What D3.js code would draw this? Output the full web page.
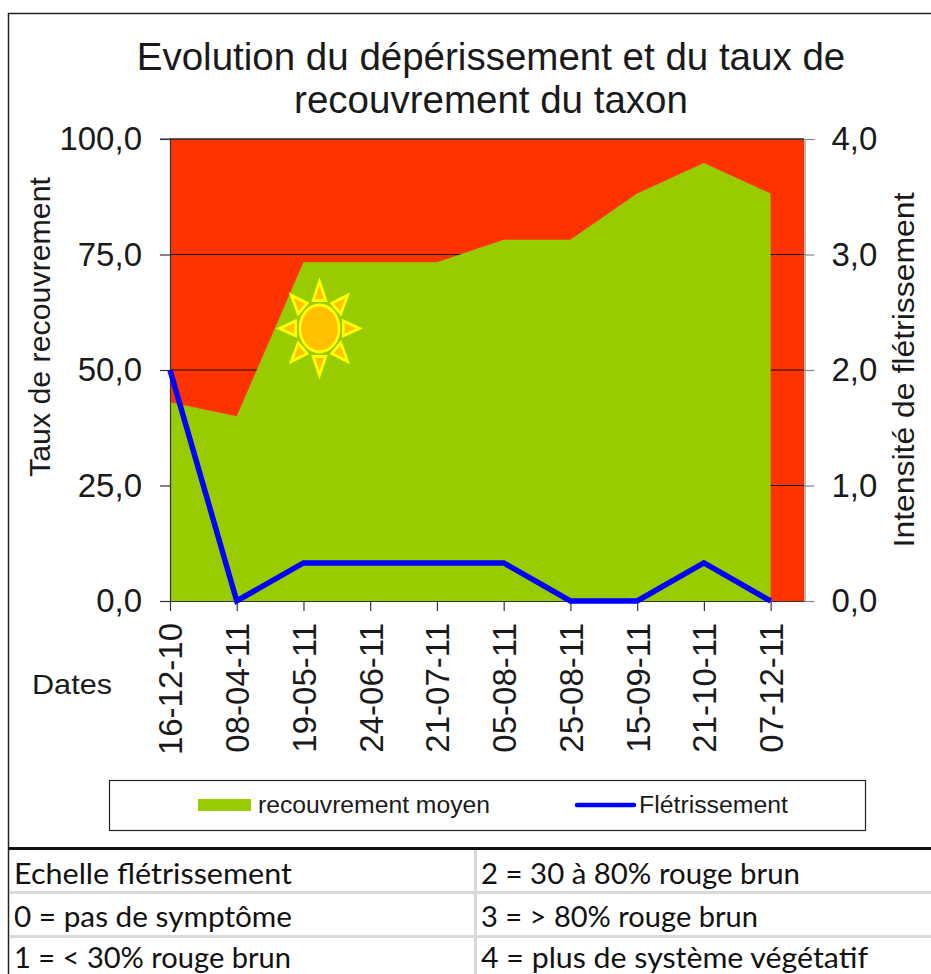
<!DOCTYPE html>
<html>
<head>
<meta charset="utf-8">
<script src="https://cdn.jsdelivr.net/npm/d3@7"></script>
<style>
  body { margin: 0; background: #fff; }
  svg { display: block; }
  text { font-family: "Liberation Sans", Arial, sans-serif; fill: #1a1a1a; }
  .scale text { font-family: Lato, sans-serif; fill: #111; }
</style>
</head>
<body>
<svg id="chart" width="931" height="974"></svg>
<script>
const dates = ['16-12-10', '08-04-11', '19-05-11', '24-06-11', '21-07-11', '05-08-11', '25-08-11', '15-09-11', '21-10-11', '07-12-11'];
const recouvrement = [43, 40, 73.3, 73.3, 73.3, 78.2, 78.2, 88.2, 94.8, 88.2];
const fletrissement = [2, 0, 0.33, 0.33, 0.33, 0.33, 0, 0, 0.33, 0];
const leftTicks = [0, 25, 50, 75, 100];
const rightTicks = [0, 1, 2, 3, 4];
const titleLines = ['Evolution du dépérissement et du taux de', 'recouvrement du taxon'];
const scaleRows = [
  ['Echelle flétrissement', '2 = 30 à 80% rouge brun'],
  ['0 = pas de symptôme', '3 = > 80% rouge brun'],
  ['1 = < 30% rouge brun', '4 = plus de système végétatif']
];

const width = 931;
const margin = { top: 139, right: 127, left: 170 };
const plotBottom = 601;
const plotRight = width - margin.right;
const fmt = (d) => d.toFixed(1).replace('.', ',');

const svg = d3.select('#chart');

// outer frame of the chart, open on the right
svg.append('path')
  .attr('d', 'M931,13.5H8.5V974')
  .attr('fill', 'none')
  .attr('stroke', '#222')
  .attr('stroke-width', 1.5);

// last point stops half a step before the right edge
const x = d3.scalePoint()
  .domain(dates)
  .range([margin.left, plotRight])
  .padding(0.25)
  .align(0);

const yLeft = d3.scaleLinear().domain([0, 100]).range([plotBottom, margin.top]);
const yRight = d3.scaleLinear().domain([0, 4]).range([plotBottom, margin.top]);

svg.append('rect')
  .attr('x', margin.left)
  .attr('y', margin.top)
  .attr('width', plotRight - margin.left)
  .attr('height', plotBottom - margin.top)
  .attr('fill', '#ff3300');

svg.selectAll('.grid')
  .data(leftTicks.slice(1))
  .enter()
  .append('line')
  .attr('class', 'grid')
  .attr('x1', margin.left)
  .attr('x2', plotRight)
  .attr('y1', (d) => yLeft(d))
  .attr('y2', (d) => yLeft(d))
  .attr('stroke', '#111')
  .attr('stroke-width', 1.2);

svg.append('path')
  .datum(recouvrement)
  .attr('fill', '#99cc00')
  .attr('d', d3.area()
    .x((d, i) => x(dates[i]))
    .y0(yLeft(0))
    .y1((d) => yLeft(d)));

// sun shape sitting over the area
const sun = svg.append('g')
  .attr('transform', `translate(${x('19-05-11') + 16},${yLeft(59)}) scale(0.85,1)`);
d3.range(8).forEach((i) => {
  sun.append('path')
    .attr('transform', `rotate(${i * 45})`)
    .attr('d', 'M-7.5,-28L7.5,-28L0,-47Z')
    .attr('fill', '#ffc000')
    .attr('stroke', '#ffff00')
    .attr('stroke-width', 3);
});
sun.append('ellipse')
  .attr('rx', 23)
  .attr('ry', 23.5)
  .attr('fill', '#ffc000')
  .attr('stroke', '#ffff00')
  .attr('stroke-width', 3);

function styleAxis(g, color, size) {
  g.selectAll('.domain').attr('stroke', color).attr('stroke-width', 1.2);
  g.selectAll('.tick line').attr('stroke', color).attr('stroke-width', 1.2);
  g.selectAll('.tick text').style('font-size', size + 'px').attr('fill', '#1a1a1a');
}

const axisLeft = svg.append('g')
  .attr('transform', `translate(${margin.left},0)`)
  .call(d3.axisLeft(yLeft).tickValues(leftTicks).tickFormat(fmt).tickSize(10).tickSizeOuter(0).tickPadding(18));
styleAxis(axisLeft, '#333', 33);

const axisRight = svg.append('g')
  .attr('transform', `translate(${plotRight + 0.5},0)`)
  .call(d3.axisRight(yRight).tickValues(rightTicks).tickFormat(fmt).tickSize(10).tickSizeOuter(0).tickPadding(17));
styleAxis(axisRight, '#888', 33);

const axisBottom = svg.append('g')
  .attr('transform', `translate(0,${plotBottom})`)
  .call(d3.axisBottom(x).tickSize(10).tickSizeOuter(0));
styleAxis(axisBottom, '#333', 33);
axisBottom.selectAll('.tick text')
  .attr('transform', 'rotate(-90)')
  .attr('text-anchor', 'end')
  .attr('x', -22)
  .attr('y', 0)
  .attr('dy', '0.36em');

svg.append('line')
  .attr('x1', margin.left - 10)
  .attr('x2', plotRight)
  .attr('y1', margin.top)
  .attr('y2', margin.top)
  .attr('stroke', '#333')
  .attr('stroke-width', 1.2);

svg.append('path')
  .datum(fletrissement)
  .attr('fill', 'none')
  .attr('stroke', '#0000ff')
  .attr('stroke-width', 5.5)
  .attr('d', d3.line()
    .x((d, i) => x(dates[i]))
    .y((d) => yRight(d)));

svg.selectAll('.title')
  .data(titleLines)
  .enter()
  .append('text')
  .attr('class', 'title')
  .attr('x', 491)
  .attr('y', (d, i) => 70 + i * 43)
  .attr('text-anchor', 'middle')
  .style('font-size', '38.5px')
  .text((d) => d);

svg.append('text')
  .attr('transform', 'translate(50,327) rotate(-90)')
  .attr('text-anchor', 'middle')
  .attr('textLength', 300)
  .attr('lengthAdjust', 'spacingAndGlyphs')
  .style('font-size', '30px')
  .text('Taux de recouvrement');

svg.append('text')
  .attr('transform', 'translate(914,370) rotate(-90)')
  .attr('text-anchor', 'middle')
  .attr('textLength', 355)
  .attr('lengthAdjust', 'spacingAndGlyphs')
  .style('font-size', '30px')
  .text('Intensité de flétrissement');

svg.append('text')
  .attr('x', 32)
  .attr('y', 694)
  .attr('textLength', 80)
  .attr('lengthAdjust', 'spacingAndGlyphs')
  .style('font-size', '28px')
  .text('Dates');

// legend
const legend = svg.append('g');
legend.append('rect')
  .attr('x', 109.5)
  .attr('y', 780.5)
  .attr('width', 756)
  .attr('height', 50)
  .attr('fill', '#fff')
  .attr('stroke', '#222')
  .attr('stroke-width', 1.2);
legend.append('rect')
  .attr('x', 198)
  .attr('y', 799)
  .attr('width', 53)
  .attr('height', 12)
  .attr('fill', '#99cc00');
legend.append('line')
  .attr('x1', 577)
  .attr('x2', 634)
  .attr('y1', 805)
  .attr('y2', 805)
  .attr('stroke', '#0000ff')
  .attr('stroke-width', 4.5)
  .attr('stroke-linecap', 'round');
legend.append('text')
  .attr('x', 258)
  .attr('y', 813)
  .attr('textLength', 232)
  .attr('lengthAdjust', 'spacingAndGlyphs')
  .style('font-size', '23px')
  .text('recouvrement moyen');
legend.append('text')
  .attr('x', 639)
  .attr('y', 813)
  .attr('textLength', 149)
  .attr('lengthAdjust', 'spacingAndGlyphs')
  .style('font-size', '23px')
  .text('Flétrissement');

// scale table under the chart
const table = svg.append('g').attr('class', 'scale');
const rowLines = [892.5, 936.5];
table.selectAll('.row-line')
  .data(rowLines)
  .enter()
  .append('line')
  .attr('class', 'row-line')
  .attr('x1', 10)
  .attr('x2', width)
  .attr('y1', (d) => d)
  .attr('y2', (d) => d)
  .attr('stroke', '#d9d9d9')
  .attr('stroke-width', 3);
table.append('line')
  .attr('x1', 475.5)
  .attr('x2', 475.5)
  .attr('y1', 849)
  .attr('y2', 974)
  .attr('stroke', '#d9d9d9')
  .attr('stroke-width', 3);
table.append('line')
  .attr('x1', 8)
  .attr('x2', width)
  .attr('y1', 848.5)
  .attr('y2', 848.5)
  .attr('stroke', '#111')
  .attr('stroke-width', 3);

const rowY = [884, 927, 968];
const colX = [14, 481];
const colLen = [
  [278, 319],
  [278, 277],
  [277, 387]
];
scaleRows.forEach((row, r) => {
  row.forEach((label, c) => {
    table.append('text')
      .attr('x', colX[c])
      .attr('y', rowY[r])
      .attr('textLength', colLen[r][c])
      .attr('lengthAdjust', 'spacingAndGlyphs')
      .style('font-size', '29px')
      .text(label);
  });
});
</script>
</body>
</html>
